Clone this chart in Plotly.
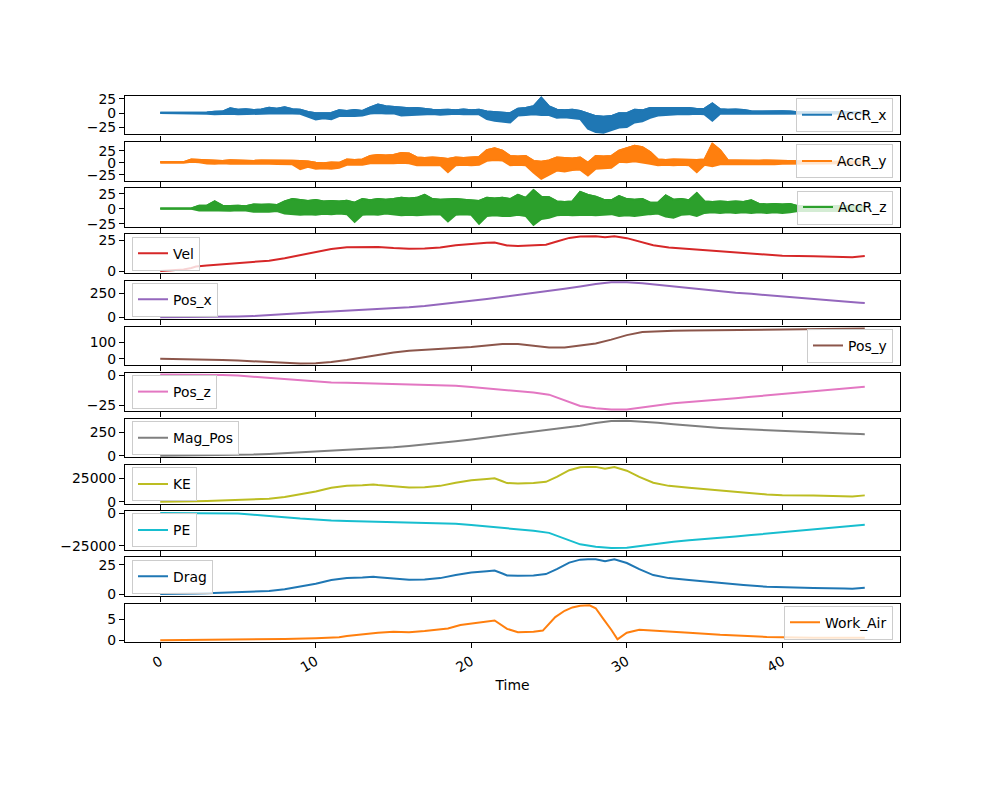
import numpy as np
import plotly.graph_objects as go

# ---------------- data ----------------
# Accelerometer traces: upper / lower envelope of the dense noisy line,
# sampled every 0.5 s from 0 to 45 s, plus the final sample at 45.3 s.
accr_step = 0.5
accr_t_end = 45.3

accr_x_hi = [0.8, 0.8, 0.8, 1.2, 1.0, 1.5, 1.3, 2.5, 2.8, 8.5,
             6.0, 7.0, 5.5, 6.5, 9.5, 8.0, 10.5, 7.0, 6.0, 2.0,
             0.0, 0.0, 0.5, 5.0, 4.0, 5.5, 4.0, 10.0, 15.0, 12.0,
             11.0, 9.0, 8.5, 9.0, 7.0, 6.0, 5.5, 6.0, 5.0, 6.5,
             5.0, 6.0, 3.0, 2.0, 1.0, 0.0, 8.0, 9.0, 12.0, 27.0,
             12.0, 6.0, 5.0, 6.0, 4.0, 0.0, -5.0, -6.0, -5.0, 0.0,
             0.0, 6.0, 5.0, 9.0, 9.0, 8.0, 9.0, 8.0, 9.0, 7.5,
             8.0, 17.0, 7.0, 6.0, 6.5, 5.5, 3.5, 3.0, 3.5, 3.0,
             3.5, 3.0, 1.5, 1.5, 1.5, 1.5, 1.5, 1.5, 1.5, 1.5,
             1.5, 1.5]
accr_x_lo = [0.2, 0.2, 0.2, -0.5, -0.6, -0.8, -0.8, -2.0, -1.5, -1.0,
             -2.0, -1.5, -2.2, -1.0, -0.5, -0.5, 0.0, -0.5, -1.0, -6.0,
             -11.0, -9.0, -10.5, -5.0, -4.5, -5.0, -4.0, -0.5, 0.5, -0.5,
             0.0, -4.0, -3.0, -3.5, -2.0, -1.5, -2.5, -2.0, -1.0, -2.0,
             -1.5, -2.0, -10.0, -13.0, -15.0, -16.0, -4.0, -3.0, -2.0, -3.0,
             -3.0, -8.0, -7.0, -8.0, -10.0, -27.0, -33.0, -34.0, -30.0, -25.0,
             -24.0, -16.0, -14.0, -8.0, -4.0, -3.0, -2.0, -1.5, -2.0, -1.0,
             -2.0, -13.0, -1.0, -1.0, -0.5, -1.0, 0.0, -0.5, 0.0, -0.5,
             0.0, -0.5, -0.5, -0.5, -0.5, -0.5, -0.5, -0.5, -0.5, -0.5,
             -0.5, -0.5]

accr_y_hi = [1.5, 1.2, 1.5, 1.5, 7.0, 6.5, 4.5, 5.0, 4.0, 5.5,
             4.5, 5.0, 4.0, 5.0, 4.5, 5.0, 4.0, 4.5, 4.0, 3.0,
             0.0, -1.0, 0.5, 0.0, 7.0, 6.0, 7.0, 14.0, 16.0, 15.0,
             16.0, 20.0, 19.0, 11.0, 10.0, 11.0, 10.0, 8.0, 11.0, 10.0,
             11.0, 12.0, 26.0, 30.0, 25.0, 14.0, 13.0, 14.0, 4.0, 2.0,
             5.0, 11.0, 10.0, 9.0, 11.0, 0.0, 14.0, 13.0, 14.0, 25.0,
             30.0, 35.0, 32.0, 22.0, 7.0, 6.0, 7.0, 6.5, 7.0, 6.0,
             7.0, 39.0, 26.0, 5.0, 5.0, 4.5, 5.0, 4.5, 5.0, 4.5,
             4.0, 4.0, 2.0, 2.0, 2.0, 2.0, 2.0, 2.0, 2.0, 2.0,
             2.0, 2.0]
accr_y_lo = [0.0, 0.5, 0.5, 0.0, 2.0, 1.0, -1.5, -2.0, -1.0, -2.0,
             -1.5, -2.0, -2.5, -1.5, -2.0, -2.5, -2.0, -3.0, -13.0, -8.0,
             -12.0, -11.0, -12.0, -10.0, -4.0, -3.5, -4.0, -1.0, 0.0, -1.0,
             -1.0, 0.0, -1.0, -5.0, -4.0, -5.0, -4.5, -19.0, -5.0, -4.0,
             -5.0, -4.0, 4.0, 6.0, 5.0, -5.0, -4.0, -5.0, -20.0, -33.0,
             -25.0, -16.0, -18.0, -15.0, -14.0, -26.0, -12.0, -11.0, -10.0, 2.0,
             1.0, 3.0, 0.0, -2.0, -5.0, -4.0, -5.0, -4.0, -5.0, -19.0,
             -4.0, -7.0, -3.0, -3.0, -2.5, -3.0, -2.5, -3.0, -2.5, -3.0,
             -2.0, -2.0, -1.0, -1.0, -1.0, -1.0, -1.0, -1.0, -1.0, -1.0,
             -1.0, -1.0]

accr_z_hi = [0.3, 0.3, 0.3, 0.3, 0.4, 5.0, 5.0, 12.0, 5.0, 4.5,
             5.0, 4.0, 7.0, 6.5, 7.0, 6.0, 12.0, 16.0, 14.0, 13.0,
             14.5, 12.0, 13.0, 12.0, 13.0, 10.0, 16.0, 14.0, 16.0, 15.0,
             16.0, 18.0, 17.0, 18.0, 23.0, 16.0, 15.0, 16.0, 16.0, 15.0,
             14.0, 13.0, 18.0, 17.0, 18.0, 16.0, 23.0, 18.0, 31.0, 20.0,
             19.0, 12.0, 11.0, 12.0, 28.0, 23.0, 20.0, 15.0, 14.0, 21.0,
             16.0, 15.0, 16.0, 10.0, 10.0, 22.0, 15.0, 16.0, 14.0, 26.0,
             12.0, 11.0, 12.0, 11.0, 12.0, 11.0, 14.0, 8.0, 7.0, 8.0,
             7.0, 8.0, 4.0, 4.5, 4.0, 4.5, 4.0, 4.5, 4.0, 4.5,
             4.0, 4.0]
accr_z_lo = [0.0, 0.0, 0.0, 0.0, -0.2, -3.0, -2.5, -3.0, -3.0, -3.5,
             -2.5, -3.0, -5.0, -4.5, -5.0, -4.0, -8.0, -9.0, -10.0, -9.0,
             -10.0, -8.5, -9.0, -8.0, -9.0, -22.0, -10.0, -9.0, -10.0, -8.0,
             -10.0, -11.0, -10.0, -11.0, -10.0, -9.0, -9.0, -21.0, -10.0, -9.0,
             -10.0, -25.0, -12.0, -11.0, -12.0, -12.0, -10.0, -12.0, -27.0, -17.0,
             -15.0, -11.0, -10.0, -11.0, -11.0, -10.0, -11.0, -10.0, -9.0, -12.0,
             -11.0, -12.0, -10.0, -9.0, -8.0, -13.0, -15.0, -10.0, -9.0, -12.0,
             -7.0, -6.0, -7.0, -6.0, -7.0, -6.0, -7.0, -6.0, -7.0, -6.0,
             -7.0, -6.0, -4.0, -3.5, -4.0, -3.5, -4.0, -3.5, -4.0, -3.5,
             -4.0, -3.0]

t_energy = [0, 1, 1.5, 2, 2.3, 3, 4, 5, 6, 7,
            8, 9, 10, 11, 12, 13, 13.7, 14, 15, 16,
            17, 18, 19, 20, 21, 21.5, 22, 22.3, 23, 24,
            24.8, 25.5, 26.3, 27, 27.5, 28, 28.6, 29.2, 30, 30.8,
            31.7, 32.7, 34, 35, 36, 37.5, 39, 40, 42, 44,
            44.5, 45.3]
vel = [0.0, 0.8, 1.3, 2.5, 3.8, 4.5, 5.5, 6.5, 7.3, 8.5,
       10.5, 13.0, 15.5, 18.0, 19.3, 19.6, 20.0, 19.7, 18.8, 18.2,
       18.4, 19.2, 21.0, 22.3, 23.0, 23.3, 21.8, 20.8, 20.5, 20.8,
       21.5, 24.0, 27.0, 28.2, 28.4, 28.4, 27.6, 28.3, 26.8, 24.0,
       21.0, 19.2, 18.0, 17.0, 16.0, 14.6, 13.0, 12.4, 12.0, 11.4,
       11.2, 12.2]
ke = [0, 29, 78, 288, 664, 932, 1392, 1944, 2451, 3324,
      5072, 7774, 11052, 14904, 17135, 17671, 18400, 17852, 16258, 15237,
      15574, 16957, 20286, 22876, 24334, 24973, 21861, 19901, 19332, 19901,
      21264, 26496, 33534, 36581, 37102, 37102, 35041, 36843, 33039, 26496,
      20286, 16957, 14904, 13294, 11776, 9805, 7774, 7073, 6624, 5978,
      5771, 6847]
drag = [0.0, 0.02, 0.06, 0.23, 0.53, 0.75, 1.11, 1.56, 1.96, 2.66,
        4.06, 6.22, 8.84, 11.9, 13.7, 14.1, 14.7, 14.3, 13.0, 12.2,
        12.5, 13.6, 16.2, 18.3, 19.5, 20.0, 17.5, 15.9, 15.5, 15.9,
        17.0, 21.2, 26.8, 29.3, 29.7, 29.7, 28.0, 29.5, 26.4, 21.2,
        16.2, 13.6, 11.9, 10.6, 9.4, 7.8, 6.2, 5.7, 5.3, 4.8,
        4.6, 5.5]

t_work = [0, 4, 8, 10, 11.5, 12, 13, 14, 15, 16,
          17, 18.5, 19.3, 20, 21, 21.5, 22.3, 23, 24, 24.6,
          25.4, 26, 26.5, 27, 27.6, 28, 28.5, 29, 29.4, 30,
          30.8, 32, 34, 36, 39, 42, 45.3]
work_air = [0.0, 0.1, 0.3, 0.5, 0.7, 1.0, 1.4, 1.8, 2.0, 1.9,
            2.2, 2.8, 3.6, 4.0, 4.5, 4.7, 2.7, 1.9, 2.0, 2.3,
            5.5, 7.0, 7.8, 8.2, 8.3, 7.6, 5.0, 2.5, 0.2, 1.8,
            2.5, 2.3, 1.8, 1.3, 0.8, 0.6, 0.6]

t_pos = [0, 1, 2, 3, 4, 5, 6, 7, 8, 9,
         10, 11, 12, 13, 14, 15, 16, 17, 18, 19,
         20, 21, 22, 23, 24, 25, 26, 27, 28, 29,
         30, 31, 32, 33, 34, 35, 36, 37, 38, 39,
         40, 41, 42, 43, 44, 45, 45.3]
pos_x = [0, 0.3, 1, 2, 4, 7, 12, 20, 30, 42,
         52, 61, 70, 77, 84, 92, 104, 118, 134, 152,
         172, 192, 212, 232, 252, 274, 298, 322, 348, 366,
         366, 355, 338, 318, 300, 285, 270, 257, 245, 233,
         222, 208, 194, 180, 166, 153, 150]
pos_y = [0, -1, -3, -5, -8, -11, -15, -19, -24, -28,
         -27, -20, -8, 8, 24, 38, 48, 54, 58, 63,
         70, 80, 88, 88, 78, 68, 68, 78, 92, 115,
         142, 160, 166, 168, 169, 170, 171, 172, 173, 174,
         175, 176, 177, 178, 179, 181, 182]
pos_z = [0.8, 0.8, 0.7, 0.6, 0.5, 0.0, -1.0, -1.8, -3.0, -4.2,
         -5.2, -5.8, -6.1, -6.4, -6.8, -7.1, -7.4, -7.7, -8.0, -8.5,
         -9.5, -10.7, -11.6, -12.8, -14.3, -16.0, -20.5, -25.5, -27.5, -28.5,
         -28.4, -26.6, -25.0, -23.3, -22.2, -21.3, -20.2, -19.0, -17.8, -16.6,
         -15.5, -14.3, -13.1, -11.9, -10.7, -9.6, -9.3]
mag_pos = [0, 1, 2, 4, 6, 9, 13, 19, 27, 37,
           47, 56, 64, 72, 80, 90, 103, 118, 134, 152,
           172, 193, 215, 235, 252, 270, 292, 318, 345, 366,
           370, 362, 348, 333, 318, 305, 294, 284, 276, 268,
           261, 254, 247, 240, 234, 229, 228]
pe = [400, 400, 350, 300, 250, 0, -937, -1687, -2811, -3935,
      -4872, -5435, -5716, -5997, -6372, -6653, -6934, -7215, -7496, -7965,
      -8902, -10026, -10869, -11994, -13399, -14992, -19209, -23894, -25768, -26705,
      -26611, -24924, -23425, -21832, -20801, -19958, -18927, -17803, -16679, -15554,
      -14524, -13399, -12275, -11150, -10026, -8995, -8714]

series_names = ["AccR_x", "AccR_y", "AccR_z", "Vel", "Pos_x", "Pos_y",
                "Pos_z", "Mag_Pos", "KE", "PE", "Drag", "Work_Air"]
x_tick_vals = [0, 10, 20, 30, 40]
y_tick_vals = [[-25, 0, 25], [-25, 0, 25], [-25, 0, 25], [0, 25], [0, 250], [0, 100],
               [-25, 0], [0, 250], [0, 25000], [-25000, 0], [0, 25], [0, 5]]
y_tick_text = [["\u221225", "0", "25"], ["\u221225", "0", "25"], ["\u221225", "0", "25"],
               ["0", "25"], ["0", "250"], ["0", "100"], ["\u221225", "0"], ["0", "250"],
               ["0", "25000"], ["\u221225000", "0"], ["0", "25"], ["0", "5"]]

# ---------------- styling ----------------
colors = ["#1f77b4", "#ff7f0e", "#2ca02c", "#d62728", "#9467bd", "#8c564b",
          "#e377c2", "#7f7f7f", "#bcbd22", "#17becf", "#1f77b4", "#ff7f0e"]
legend_side = ["right", "right", "right", "left", "left", "right",
               "left", "left", "left", "left", "left", "right"]

t_accr = list(np.arange(len(accr_x_hi) - 1) * accr_step) + [accr_t_end]
accr_env = {0: (accr_x_hi, accr_x_lo), 1: (accr_y_hi, accr_y_lo), 2: (accr_z_hi, accr_z_lo)}
xs = {3: t_energy, 4: t_pos, 5: t_pos, 6: t_pos, 7: t_pos,
      8: t_energy, 9: t_pos, 10: t_energy, 11: t_work}
ys = {3: vel, 4: pos_x, 5: pos_y, 6: pos_z, 7: mag_pos, 8: ke, 9: pe, 10: drag, 11: work_air}

# The page body has an 8px default margin; compensate so the axes land where
# they are in the reference image.
body_off = 8
W, H = 1000, 803
ml, mr, mt, mb = 125 - body_off, 100 + body_off, 96 - body_off, 161 + body_off
plot_h = H - mt - mb
plot_w = W - ml - mr
n = len(series_names)
panel_h = plot_h / (n + 0.2 * (n - 1))
gap = 0.2 * panel_h

font_family = "DejaVu Sans, Liberation Sans, sans-serif"
fs = 13.9

t_max = max(t_energy)
x_range = [-0.05 * t_max, t_max * 1.05]

fig = go.Figure()
layout = dict(
    width=W, height=H,
    margin=dict(l=ml, r=mr, t=mt, b=mb, pad=0),
    paper_bgcolor="white", plot_bgcolor="white",
    font=dict(family=font_family, size=fs, color="black"),
    showlegend=True,
)

for i in range(n):
    k = i + 1
    xa = "x" if k == 1 else f"x{k}"
    ya = "y" if k == 1 else f"y{k}"
    lg = "legend" if k == 1 else f"legend{k}"
    top_px = i * (panel_h + gap)
    y1 = 1 - top_px / plot_h
    y0 = 1 - (top_px + panel_h) / plot_h

    if i in accr_env:
        hi, lo = accr_env[i]
        # dense noisy trace drawn as its band
        fig.add_trace(go.Scatter(
            x=t_accr + t_accr[::-1], y=hi + lo[::-1], mode="lines",
            fill="toself", fillcolor=colors[i],
            line=dict(color=colors[i], width=2),
            xaxis=xa, yaxis=ya, showlegend=False, hoverinfo="skip",
        ))
        fig.add_trace(go.Scatter(
            x=t_accr, y=hi, mode="lines", name=series_names[i],
            line=dict(color=colors[i], width=2),
            xaxis=xa, yaxis=ya, legend=lg, showlegend=True,
        ))
        vmin, vmax = min(lo), max(hi)
    else:
        fig.add_trace(go.Scatter(
            x=xs[i], y=ys[i], mode="lines", name=series_names[i],
            line=dict(color=colors[i], width=2),
            xaxis=xa, yaxis=ya, legend=lg, showlegend=True,
        ))
        vmin, vmax = min(ys[i]), max(ys[i])

    span = vmax - vmin
    y_range = [vmin - 0.05 * span, vmax + 0.05 * span]

    is_last = (k == n)
    layout[f"xaxis{'' if k == 1 else k}"] = dict(
        domain=[0, 1], anchor=ya, range=x_range,
        tickmode="array", tickvals=x_tick_vals,
        ticktext=[str(v) for v in x_tick_vals],
        showticklabels=is_last, tickangle=-30 if is_last else 0,
        ticks="outside", ticklen=5, tickwidth=1.1, tickcolor="black",
        showline=True, mirror=True, linecolor="black", linewidth=1.1,
        showgrid=False, zeroline=False,
        tickfont=dict(family=font_family, size=fs, color="black"),
        title=dict(text="Time", font=dict(size=fs), standoff=6) if is_last else None,
    )
    if k > 1:
        layout[f"xaxis{k}"]["matches"] = "x"
    layout[f"yaxis{'' if k == 1 else k}"] = dict(
        domain=[y0, y1], anchor=xa, range=y_range,
        tickmode="array", tickvals=y_tick_vals[i], ticktext=y_tick_text[i],
        ticks="outside", ticklen=5, tickwidth=1.1, tickcolor="black",
        showline=True, mirror=True, linecolor="black", linewidth=1.1,
        showgrid=False, zeroline=False,
        tickfont=dict(family=font_family, size=fs, color="black"),
    )
    pad_x = 7 / plot_w
    layout[lg] = dict(
        x=(1 - pad_x) if legend_side[i] == "right" else pad_x,
        xanchor="right" if legend_side[i] == "right" else "left",
        y=(y0 + y1) / 2, yanchor="middle",
        bgcolor="rgba(255,255,255,0.8)", bordercolor="#cccccc", borderwidth=1,
        font=dict(family=font_family, size=fs, color="black"),
        itemwidth=30, tracegroupgap=0,
    )

fig.update_layout(**layout)
fig.write_html("out.html")
